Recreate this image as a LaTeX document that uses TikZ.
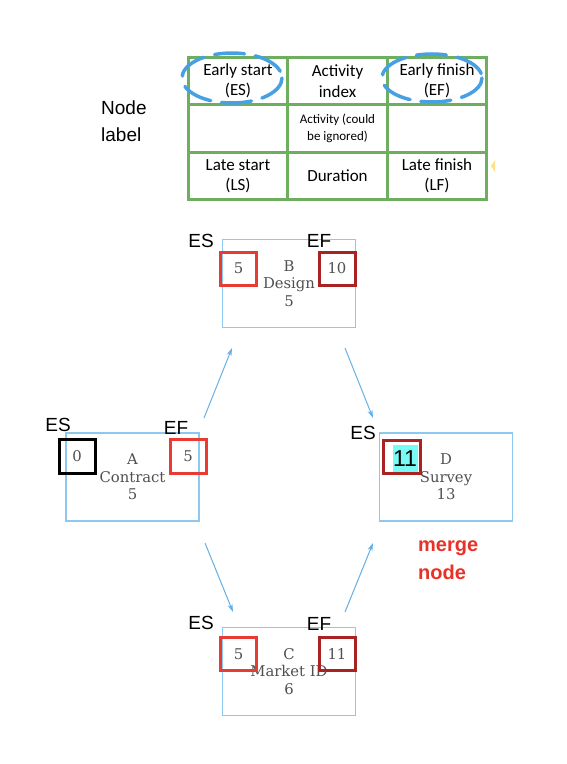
\documentclass[tikz,border=0pt]{standalone}
\usepackage{fontspec}
\setmainfont{Carlito}
\newfontfamily\arial{Liberation Sans}
\newfontfamily\dvs{DejaVu Serif}
\usetikzlibrary{arrows.meta}
\definecolor{tgreen}{RGB}{110,175,95}
\definecolor{ellblue}{RGB}{70,160,225}
\definecolor{boxblue}{RGB}{140,200,240}
\definecolor{arrblue}{RGB}{100,175,230}
\definecolor{esred}{RGB}{232,60,50}
\definecolor{efred}{RGB}{170,35,35}
\definecolor{acttxt}{RGB}{80,80,80}
\definecolor{mergered}{RGB}{230,50,40}
\definecolor{hlcyan}{RGB}{120,250,245}
\begin{document}
\begin{tikzpicture}[x=1pt,y=-1pt,
  cell/.style={draw=tgreen,line width=3pt,minimum width=99.5pt,minimum height=47.5pt,inner sep=0pt,align=center,font=\fontsize{17}{20.5}\selectfont},
  smallcell/.style={cell,font=\fontsize{13}{17}\selectfont},
  ell/.style={draw=ellblue,line width=3.5pt,dash pattern=on 30pt off 11pt,line cap=round},
  actbox/.style={draw=boxblue,line width=1.2pt,minimum width=133pt,minimum height=88pt,inner sep=0pt,align=center,text=acttxt,font=\dvs\fontsize{14.8}{17.5}\selectfont},
  numbox/.style={line width=3pt,minimum width=36pt,minimum height=33pt,inner sep=0pt,text=acttxt,font=\dvs\fontsize{14.8}{17.5}\selectfont},
  lbl/.style={inner sep=0pt,font=\arial\fontsize{19}{22}\selectfont},
  arr/.style={draw=arrblue,line width=1pt,-{Stealth[length=8pt,width=5pt]}}
]
\useasboundingbox (0,0) rectangle (566,764);
\fill[white] (0,0) rectangle (566,764);

% legend
\node[lbl,align=left,anchor=west,font=\arial\fontsize{19}{27}\selectfont] (nodelabel) at (101,121) {Node\\label};
\node[cell] (c11) at (238,81) {Early start\\(ES)};
\node[cell] (c12) at (337.5,81) {Activity\\index};
\node[cell] (c13) at (437,81) {Early finish\\(EF)};
\node[cell] (c21) at (238,128.5) {};
\node[smallcell] (c22) at (337.5,128.5) {Activity (could\\be ignored)};
\node[cell] (c23) at (437,128.5) {};
\node[cell] (c31) at (238,176) {Late start\\(LS)};
\node[cell] (c32) at (337.5,176) {Duration};
\node[cell] (c33) at (437,176) {Late finish\\(LF)};
\draw[ell] (c11.center) ++(-6,-3) ellipse [x radius=50, y radius=25];
\draw[ell] (c13.center) ++(-5,-3) ellipse [x radius=50, y radius=24];
\fill[yellow!55!orange!45] (491,166) -- (495,160) -- (495,172) -- cycle;

% activity boxes
\node[actbox] (B) at (289,283.5) {B\\Design\\5};
\node[actbox] (A) at (132.5,477) {A\\Contract\\5};
\node[actbox] (D) at (446,477) {D\\Survey\\13};
\node[actbox] (C) at (289,671.5) {C\\Market ID\\6};

% ES / EF boxes
\node[numbox,draw=esred] (Bes) at (238.5,268.5) {5};
\node[numbox,draw=efred] (Bef) at (337,268.5) {10};
\node[numbox,draw=black,minimum height=34pt] (Aes) at (77,456) {0};
\node[numbox,draw=esred,minimum height=34pt] (Aef) at (188,456) {5};
\node[numbox,draw=esred] (Ces) at (238.5,654) {5};
\node[numbox,draw=efred] (Cef) at (337,654) {11};
\node[fill=hlcyan,minimum width=25pt,minimum height=27pt,inner sep=0pt] (Dhl) at (405.5,458.5) {};
\node[numbox,draw=efred,minimum width=37pt] (Des) at (401.5,456.5) {};
\node[inner sep=0pt,font=\arial\fontsize{23}{24}\selectfont] (Dnum) at (405,459) {11};

% labels
\node[lbl] (BESl) at (201,241) {ES};
\node[lbl] (BEFl) at (319,241) {EF};
\node[lbl] (AESl) at (58,425) {ES};
\node[lbl] (AEFl) at (176,428) {EF};
\node[lbl] (DESl) at (363,433) {ES};
\node[lbl] (CESl) at (201,623) {ES};
\node[lbl] (CEFl) at (319,624) {EF};
\node[inner sep=0pt,align=left,anchor=west,text=mergered,font=\arial\bfseries\fontsize{20}{28}\selectfont] (merge) at (418,560) {merge\\node};

% arrows
\coordinate (ab1) at (204,418); \coordinate (ab2) at (232,348);
\coordinate (bd1) at (345,348); \coordinate (bd2) at (373,418);
\coordinate (ac1) at (205,543); \coordinate (ac2) at (233,612);
\coordinate (cd1) at (345,612); \coordinate (cd2) at (373,543);
\draw[arr] (ab1) -- (ab2);
\draw[arr] (bd1) -- (bd2);
\draw[arr] (ac1) -- (ac2);
\draw[arr] (cd1) -- (cd2);
\end{tikzpicture}
\end{document}
